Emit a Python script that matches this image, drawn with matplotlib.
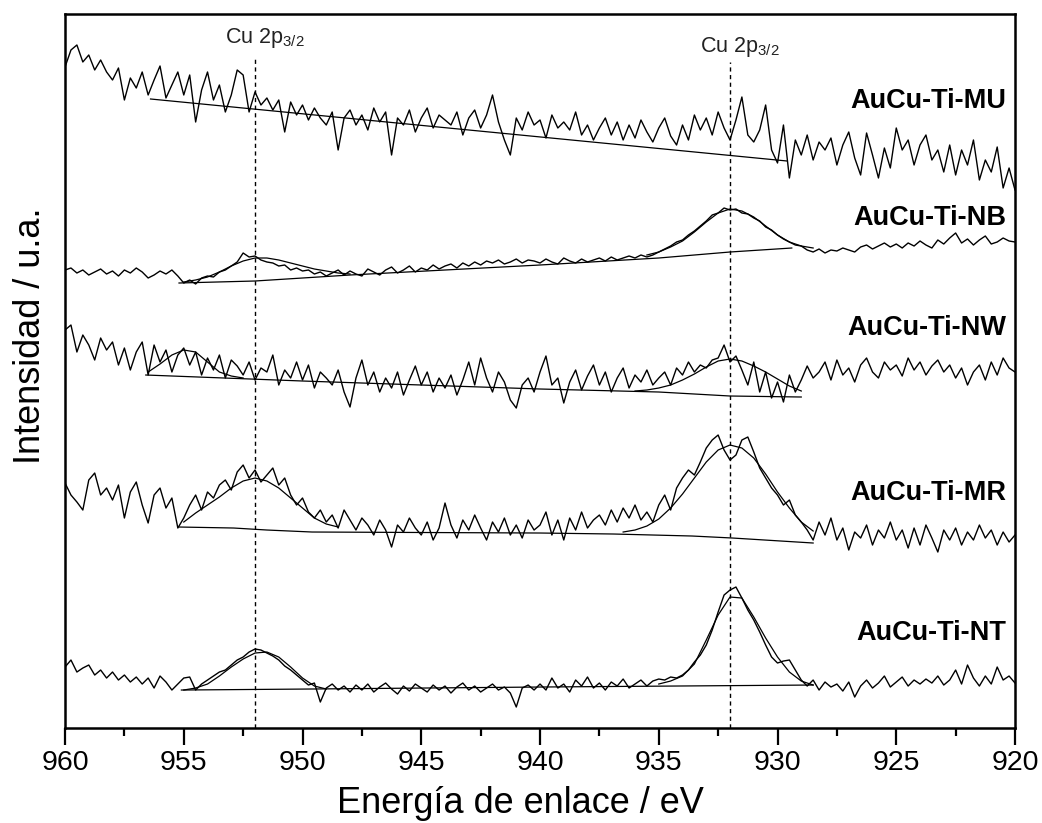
import numpy as np
import matplotlib
matplotlib.use("Agg")
import matplotlib.pyplot as plt

plt.rcParams['font.family'] = ['Liberation Sans', 'DejaVu Sans']
plt.rcParams['mathtext.fontset'] = 'custom'
plt.rcParams['mathtext.rm'] = 'Liberation Sans'

# binding energy grid of the scans (eV), 0.25 eV step
energy = np.linspace(960, 920, 161)

# measured intensities (a.u., already stacked)
mu_counts = [661, 678, 683, 666, 673, 658, 668, 656, 648, 660, 628, 650, 640, 656, 633,
             648, 662, 630, 643, 656, 633, 653, 606, 638, 656, 628, 643, 616, 633, 658,
             653, 616, 636, 623, 630, 618, 628, 596, 626, 613, 623, 608, 620, 610, 603,
             616, 578, 610, 618, 603, 613, 598, 620, 606, 616, 573, 610, 603, 618, 596,
             610, 620, 600, 613, 608, 603, 616, 593, 610, 618, 600, 613, 633, 606, 588,
             573, 610, 598, 616, 603, 608, 590, 613, 600, 606, 598, 616, 593, 603, 588,
             600, 610, 593, 606, 588, 603, 590, 608, 596, 586, 600, 610, 592, 583, 603,
             588, 613, 598, 610, 593, 616, 600, 588, 608, 631, 593, 586, 598, 623, 578,
             565, 603, 550, 588, 573, 593, 568, 586, 578, 590, 563, 583, 596, 570, 553,
             595, 573, 550, 580, 560, 600, 578, 588, 563, 583, 593, 568, 578, 556, 583,
             553, 578, 563, 588, 548, 568, 556, 581, 540, 560, 538]
nb_counts = [458, 460, 455, 458, 453, 456, 459, 454, 457, 452, 458, 455, 460, 456, 450,
             453, 457, 454, 458, 452, 445, 448, 444, 450, 452, 451, 456, 458, 462, 466,
             475, 471, 472, 468, 466, 465, 462, 463, 458, 460, 457, 458, 454, 456, 452,
             455, 458, 453, 457, 454, 452, 459, 456, 453, 458, 461, 455, 458, 462, 456,
             460, 458, 463, 459, 462, 464, 460, 465, 462, 466, 463, 467, 465, 468, 464,
             466, 469, 465, 468, 467, 465, 469, 466, 464, 470, 467, 465, 469, 466, 468,
             470, 467, 471, 468, 470, 472, 470, 473, 471, 473, 476, 479, 482, 486, 488,
             493, 497, 502, 507, 513, 515, 520, 518, 519, 515, 514, 510, 507, 501, 498,
             493, 489, 486, 483, 482, 478, 476, 479, 475, 478, 477, 480, 478, 476, 481,
             483, 479, 482, 485, 481, 484, 480, 485, 482, 487, 483, 480, 488, 484, 490,
             495, 485, 489, 483, 488, 492, 484, 486, 490, 487, 486]
nw_counts = [398, 403, 376, 393, 383, 368, 390, 378, 386, 363, 380, 358, 376, 386, 353,
             383, 366, 378, 356, 373, 380, 363, 376, 353, 370, 358, 373, 350, 368, 362,
             353, 366, 348, 360, 356, 373, 343, 358, 350, 366, 348, 363, 340, 356, 350,
             343, 358, 336, 321, 350, 368, 343, 356, 336, 350, 340, 356, 333, 348, 362,
             343, 356, 336, 350, 340, 353, 333, 348, 366, 343, 370, 350, 336, 356, 346,
             328, 320, 343, 350, 336, 356, 372, 343, 350, 325, 346, 358, 338, 352, 363,
             343, 356, 336, 350, 360, 340, 353, 346, 358, 343, 350, 356, 343, 360, 353,
             366, 356, 363, 360, 368, 370, 383, 366, 372, 358, 343, 366, 336, 356, 330,
             346, 326, 353, 336, 348, 362, 350, 356, 366, 348, 368, 353, 360, 346, 363,
             370, 356, 350, 366, 358, 363, 352, 370, 358, 366, 353, 362, 368, 356, 363,
             350, 360, 343, 356, 363, 348, 366, 353, 370, 360, 356]
mr_counts = [245, 233, 226, 218, 248, 255, 233, 240, 228, 243, 210, 236, 246, 223, 205,
             233, 240, 220, 230, 200, 210, 223, 233, 218, 236, 230, 243, 248, 238, 256,
             263, 250, 258, 246, 253, 260, 243, 250, 233, 223, 230, 216, 210, 218, 206,
             213, 200, 218, 208, 198, 210, 203, 193, 208, 198, 181, 203, 196, 210, 200,
             193, 206, 188, 200, 225, 203, 190, 208, 198, 213, 200, 188, 206, 196, 210,
             193, 203, 190, 208, 198, 203, 216, 193, 208, 188, 210, 198, 216, 200, 208,
             213, 203, 218, 206, 220, 210, 223, 208, 216, 206, 223, 233, 218, 240, 250,
             258, 253, 266, 280, 288, 293, 278, 268, 273, 288, 291, 276, 260, 250, 240,
             233, 223, 228, 213, 206, 198, 188, 206, 193, 210, 188, 200, 178, 196, 190,
             203, 183, 198, 190, 206, 188, 198, 180, 200, 183, 203, 190, 176, 198, 188,
             200, 183, 196, 188, 203, 190, 198, 183, 196, 186, 193]
nt_counts = [61, 68, 56, 60, 63, 53, 58, 50, 56, 48, 53, 46, 51, 44, 50,
             40, 52, 46, 38, 44, 50, 51, 38, 44, 48, 52, 56, 58, 63, 68,
             71, 76, 79, 78, 75, 72, 68, 62, 58, 53, 48, 43, 45, 26, 40,
             44, 38, 42, 36, 43, 38, 44, 36, 41, 45, 39, 34, 42, 37, 44,
             40, 36, 43, 38, 42, 35, 41, 45, 38, 42, 36, 40, 44, 38, 41,
             35, 21, 40, 43, 38, 44, 38, 50, 40, 44, 36, 48, 42, 51, 40,
             45, 38, 46, 42, 49, 40, 44, 48, 42, 47, 49, 48, 51, 50, 53,
             58, 66, 73, 83, 98, 116, 133, 138, 141, 130, 118, 108, 96, 83, 71,
             65, 67, 68, 58, 48, 42, 48, 38, 46, 41, 44, 37, 46, 31, 42,
             48, 40, 45, 52, 41, 46, 51, 42, 48, 44, 49, 45, 52, 43, 48,
             58, 44, 63, 50, 42, 52, 44, 61, 48, 52, 45]

# background lines (energy, intensity)
mu_bg_e = [956.4, 929.6]
mu_bg = [629, 567]
nb_bg_e = [955.2, 952.0, 948.0, 940.0, 935.0, 932.0, 929.4]
nb_bg = [445, 447, 453, 463, 470, 476, 480]
nw_bg_e = [956.6, 950.0, 945.0, 940.0, 935.0, 932.0, 929.0]
nw_bg = [353, 347, 343, 339, 336, 332, 331]
mr_bg_e = [955.2, 952.9, 951.5, 949.6, 940.0, 936.9, 933.6, 931.9, 928.5]
mr_bg = [201, 200, 198, 196, 195, 194, 192, 190, 185]
nt_bg_e = [955.1, 949.7, 940.0, 928.5]
nt_bg = [38, 39, 41, 43]

# fitted Cu 2p envelopes
nb_fit1_e = [955.0, 954.5, 954.0, 953.5, 953.0, 952.5, 952.0, 951.5, 951.0, 950.5,
             950.0, 949.5, 949.0, 948.5, 948.0]
nb_fit1 = [446, 448, 451, 456, 462, 467, 470, 470, 468, 465, 462, 459, 457, 455, 454]
nb_fit2_e = [935.5, 935.0, 934.5, 934.0, 933.5, 933.0, 932.5, 932.0, 931.5, 931.0,
             930.5, 930.0, 929.5, 929.0, 928.5]
nb_fit2 = [473, 476, 481, 487, 496, 506, 515, 519, 517, 511, 502, 493, 486, 482, 480]
nw_fit1_e = [956.5, 956.0, 955.5, 955.0, 954.5, 954.0, 953.5, 953.0, 952.5]
nw_fit1 = [356, 364, 373, 378, 376, 366, 356, 352, 350]
nw_fit2_e = [936.0, 935.5, 935.0, 934.5, 934.0, 933.5, 933.0, 932.5, 932.0, 931.5,
             931.0, 930.5, 930.0, 929.5, 929.0]
nw_fit2 = [337, 338, 340, 343, 348, 354, 361, 367, 369, 367, 362, 356, 349, 342, 337]
mr_fit1_e = [955.0, 954.5, 954.0, 953.5, 953.0, 952.5, 952.0, 951.5, 951.0, 950.5,
             950.0, 949.5, 949.0, 948.5]
mr_fit1 = [206, 215, 223, 231, 240, 247, 250, 247, 240, 230, 220, 210, 204, 201]
mr_fit2_e = [936.5, 936.0, 935.5, 935.0, 934.5, 934.0, 933.5, 933.0, 932.5, 932.0,
             931.5, 931.0, 930.5, 930.0, 929.5, 929.0, 928.5]
mr_fit2 = [196, 198, 202, 209, 220, 234, 250, 266, 278, 283, 280, 270, 254, 236, 220, 206, 197]
nt_fit1_e = [955.0, 954.5, 954.0, 953.5, 953.0, 952.5, 952.0, 951.5, 951.0, 950.5,
             950.0, 949.5, 949.0]
nt_fit1 = [38, 40, 44, 52, 61, 69, 75, 76, 71, 61, 50, 42, 39]
nt_fit2_e = [935.0, 934.5, 934.0, 933.5, 933.0, 932.5, 932.0, 931.5, 931.0, 930.5,
             930.0, 929.5, 929.0, 928.5]
nt_fit2 = [44, 47, 52, 64, 88, 113, 131, 130, 111, 90, 71, 56, 47, 43]

samples = ['AuCu-Ti-MU', 'AuCu-Ti-NB', 'AuCu-Ti-NW', 'AuCu-Ti-MR', 'AuCu-Ti-NT']
label_y = [620, 503, 393, 228, 88]
cu_positions = [952.0, 932.0]


def plot_spectra():
    fig = plt.figure(figsize=(10.42, 8.23), dpi=100)
    ax = fig.add_axes([0.0624, 0.1154, 0.9117, 0.8676])

    spectra = [mu_counts, nb_counts, nw_counts, mr_counts, nt_counts]
    for counts in spectra:
        ax.plot(energy, counts, color='black', lw=1.0)

    # backgrounds and fitted peaks
    for e, v in [(mu_bg_e, mu_bg), (nb_bg_e, nb_bg), (nw_bg_e, nw_bg),
                 (mr_bg_e, mr_bg), (nt_bg_e, nt_bg)]:
        ax.plot(e, v, color='black', lw=0.9)
    for e, v in [(nb_fit1_e, nb_fit1), (nb_fit2_e, nb_fit2), (nw_fit1_e, nw_fit1),
                 (nw_fit2_e, nw_fit2), (mr_fit1_e, mr_fit1), (mr_fit2_e, mr_fit2),
                 (nt_fit1_e, nt_fit1), (nt_fit2_e, nt_fit2)]:
        ax.plot(e, v, color='black', lw=0.9)

    # Cu 2p3/2 reference positions
    for pos, top, ty in zip(cu_positions, [669, 666], [685, 676]):
        ax.plot([pos, pos], [0, top], color='black', lw=1.0, ls=(0, (3, 2.5)))
        ax.text(pos + 1.26, ty, r'Cu 2p$_{\mathregular{3/2}}$', fontsize=15.5,
                color='#222222', ha='left', va='baseline')

    for name, y in zip(samples, label_y):
        ax.text(920.35, y, name, fontsize=19.5, fontweight='bold',
                ha='right', va='baseline')

    ax.set_xlim(960, 920)
    ax.set_ylim(0, 714)
    ax.set_xticks(np.arange(960, 919, -5))
    ax.set_xticks(np.arange(957.5, 920, -5), minor=True)
    ax.set_yticks([])
    ax.tick_params(axis='x', which='major', length=12, width=1.6, labelsize=20.5, pad=3.5)
    ax.tick_params(axis='x', which='minor', length=6, width=1.6)
    for sp in ax.spines.values():
        sp.set_linewidth(1.8)

    ax.set_xlabel('Energía de enlace / eV', fontsize=26)
    ax.xaxis.set_label_coords(0.479, -0.081)
    ax.set_ylabel('Intensidad / u.a.', fontsize=26)
    ax.yaxis.set_label_coords(-0.018, 0.549)

    fig.savefig('out.png', dpi=100)


def main():
    plot_spectra()


if __name__ == "__main__":
    main()
